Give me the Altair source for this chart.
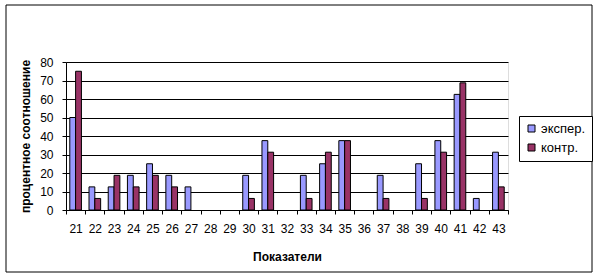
import altair as alt
import pandas as pd

categories = [str(i) for i in range(21, 44)]
series = ["экспер.", "контр."]
colors = ["#9999FF", "#993366"]
eksper = [50, 12.5, 12.5, 18.75, 25, 18.75, 12.5, 0, 0, 18.75, 37.5, 0,
          18.75, 25, 37.5, 0, 18.75, 0, 25, 37.5, 62.5, 6.25, 31.25]
kontr = [75, 6.25, 18.75, 12.5, 18.75, 12.5, 0, 0, 0, 6.25, 31.25, 0,
         6.25, 31.25, 37.5, 0, 6.25, 0, 6.25, 31.25, 68.75, 0, 12.5]

rows = []
for c, a, b in zip(categories, eksper, kontr):
    rows.append({"cat": c, "series": series[0], "value": a})
    rows.append({"cat": c, "series": series[1], "value": b})
df = pd.DataFrame(rows)

FONT = "Liberation Sans"

bars = alt.Chart(df).transform_filter("datum.value > 0").mark_bar(
    stroke="black", strokeWidth=1
).encode(
    x=alt.X("cat:N", sort=categories,
            scale=alt.Scale(domain=categories, paddingInner=0, paddingOuter=0),
            axis=alt.Axis(title="Показатели", labelAngle=0, tickBand="extent",
                          tickSize=4, tickColor="black", domainColor="black",
                          labelPadding=9, labelFontSize=12, labelColor="black",
                          titleFontSize=12, titleFontWeight="bold", titleColor="black",
                          titlePadding=17, grid=False)),
    xOffset=alt.XOffset("series:N", sort=series,
                        scale=alt.Scale(domain=series, paddingOuter=0.65, paddingInner=0)),
    y=alt.Y("value:Q", scale=alt.Scale(domain=[0, 80]),
            axis=alt.Axis(title="процентное соотношение", values=list(range(0, 81, 10)),
                          tickSize=4, tickColor="black", domainColor="black",
                          grid=True, gridColor="black", gridWidth=1,
                          labelPadding=9, labelFontSize=12, labelColor="black",
                          titleFontSize=12, titleFontWeight="bold", titleColor="black",
                          titlePadding=7)),
    color=alt.Color("series:N", sort=series,
                    scale=alt.Scale(domain=series, range=colors),
                    legend=alt.Legend(title=None, orient="none", legendX=453, legendY=54,
                                      fillColor="white", strokeColor="black", padding=6,
                                      symbolType="square", symbolSize=49,
                                      symbolStrokeColor="black", symbolStrokeWidth=1,
                                      labelFontSize=13, labelColor="black", labelOffset=3,
                                      rowPadding=5)),
)

frame = alt.Chart(pd.DataFrame({"k": [0]})).mark_rect(
    fill=None, stroke="black", strokeWidth=1
).encode(
    x=alt.value(-60), x2=alt.value(526), y=alt.value(-57), y2=alt.value(210)
)

chart = alt.layer(frame, bars).properties(
    width=442, height=148,
    autosize=alt.AutoSizeParams(type="none"),
    padding={"left": 66, "top": 62, "right": 90, "bottom": 67},
).configure_view(
    fill="#C0C0C0", stroke="#808080", strokeWidth=1
).configure(font=FONT, background="white")

chart.save("out.html", embed_options={"renderer": "svg", "actions": False})
